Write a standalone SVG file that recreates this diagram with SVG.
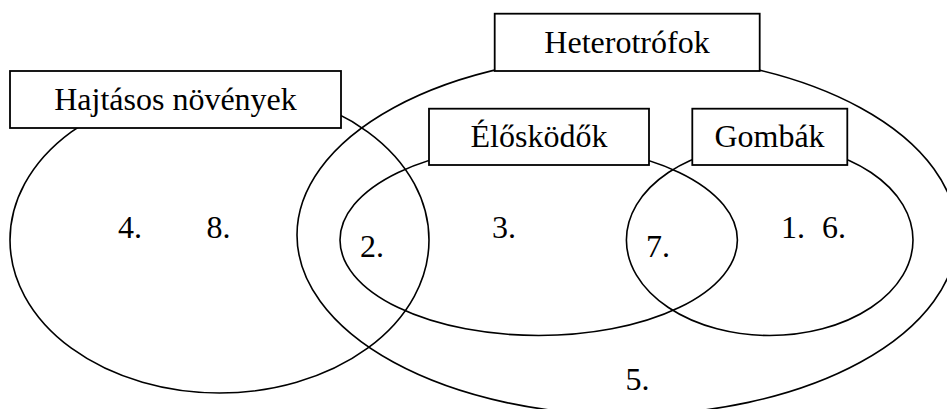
<svg xmlns="http://www.w3.org/2000/svg" width="947" height="409" viewBox="0 0 947 409">
<style>
.c{fill:none;stroke:#000;stroke-width:1.6}
.b{fill:#fff;stroke:#000;stroke-width:1.8}
.t{font-family:'Liberation Serif','Times New Roman',Times,serif;font-size:32px;fill:#000}
.m{text-anchor:middle}
</style>
<rect width="947" height="409" fill="#fff"/>
<g id="connectors">
<ellipse id="e-hetero" class="c" cx="627" cy="235" rx="330" ry="180"/>
<ellipse id="e-hajtasos" class="c" cx="219.5" cy="240" rx="209.5" ry="153"/>
<ellipse id="e-elosk" class="c" cx="538.7" cy="240" rx="198.7" ry="95.5"/>
<ellipse id="e-gomba" class="c" cx="769.7" cy="240" rx="143.3" ry="95.5"/>
</g>
<g id="node-hajtasos">
<rect class="b" x="10" y="71" width="331" height="57"/>
<text class="t m" x="175.5" y="110">Hajtásos növények</text>
</g>
<g id="node-hetero">
<rect class="b" x="494.7" y="13.7" width="265" height="57.3"/>
<text class="t m" x="627" y="53">Heterotrófok</text>
</g>
<g id="node-elosk">
<rect class="b" x="429" y="108.7" width="220" height="56.3"/>
<text class="t m" x="539" y="147">Élősködők</text>
</g>
<g id="node-gomba">
<rect class="b" x="692.3" y="108.7" width="155" height="56.3"/>
<text class="t m" x="769.5" y="147">Gombák</text>
</g>
<g id="numbers">
<text class="t" x="118" y="238">4.</text>
<text class="t" x="206.5" y="238">8.</text>
<text class="t" x="360" y="257">2.</text>
<text class="t" x="492" y="238">3.</text>
<text class="t" x="646" y="257">7.</text>
<text class="t" x="781" y="238">1.</text>
<text class="t" x="822" y="238">6.</text>
<text class="t" x="625.5" y="390">5.</text>
</g>
</svg>
